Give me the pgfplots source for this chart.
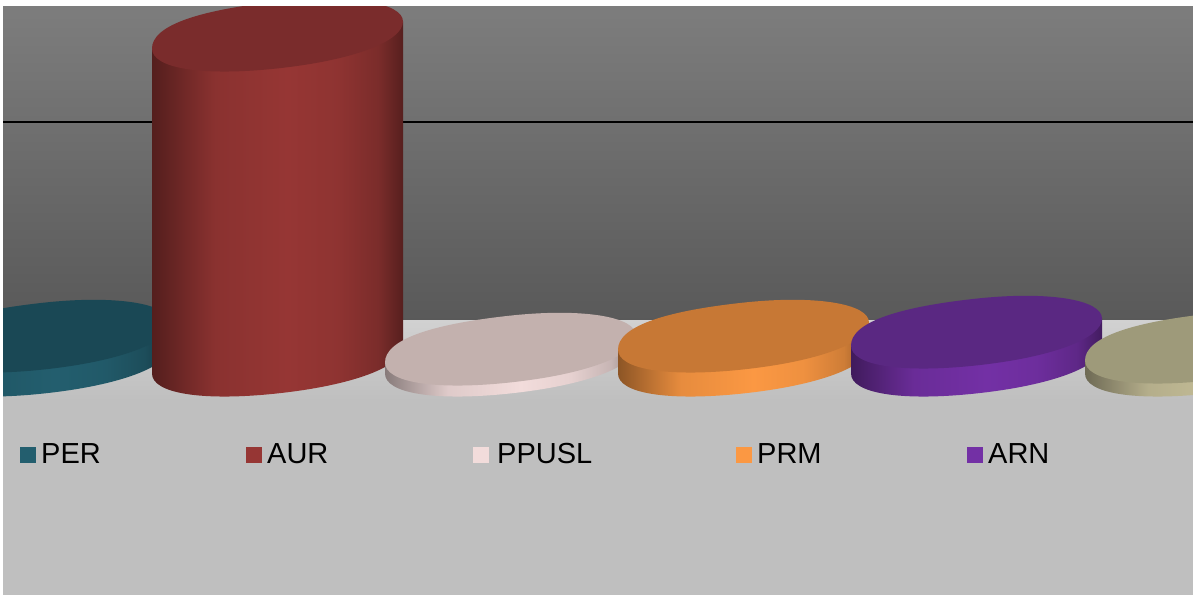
\documentclass[border=0pt]{standalone}
\usepackage{fontspec}
\setmainfont{Liberation Sans}
\usepackage{pgfplots}
\pgfplotsset{compat=1.18}

\definecolor{perSide}{HTML}{235E6E}
\definecolor{perTop}{HTML}{1A4855}
\definecolor{aurSide}{HTML}{963634}
\definecolor{aurTop}{HTML}{7A2C2C}
\definecolor{ppuSide}{HTML}{F2DCDB}
\definecolor{ppuTop}{HTML}{C3B1AE}
\definecolor{prmSide}{HTML}{FB9843}
\definecolor{prmTop}{HTML}{C77835}
\definecolor{arnSide}{HTML}{7330A5}
\definecolor{arnTop}{HTML}{5A2882}
\definecolor{othSide}{HTML}{C4BD97}
\definecolor{othTop}{HTML}{9E9A7A}

% disc outline, a little fuller on the upper left than a true ellipse
\newcommand\discpath{%
  \pgfpathmoveto{\pgfqpoint{125.5pt}{13.5pt}}%
  \pgfpathcurveto{\pgfqpoint{125.5pt}{32.5pt}}{\pgfqpoint{71.5pt}{41.1pt}}{\pgfqpoint{0pt}{33.4pt}}%
  \pgfpathcurveto{\pgfqpoint{-82.8pt}{24.5pt}}{\pgfqpoint{-125.5pt}{8.5pt}}{\pgfqpoint{-125.5pt}{-13.5pt}}%
  \pgfpathcurveto{\pgfqpoint{-125.5pt}{-33.5pt}}{\pgfqpoint{-75.3pt}{-41.5pt}}{\pgfqpoint{0pt}{-33.4pt}}%
  \pgfpathcurveto{\pgfqpoint{75.3pt}{-25.3pt}}{\pgfqpoint{125.5pt}{-6.5pt}}{\pgfqpoint{125.5pt}{13.5pt}}%
  \pgfpathclose}

% side of a cylinder: dark edges, lit a bit right of the middle
\newcommand\sideshade[1]{%
  \pgfdeclarehorizontalshading{sh#1}{100bp}{%
    color(0bp)=(#1Side!56!black); color(25bp)=(#1Side!56!black);
    color(31.5bp)=(#1Side!75!black); color(37.5bp)=(#1Side!92!black);
    color(52bp)=(#1Side); color(62bp)=(#1Side!95!black);
    color(70bp)=(#1Side!82!black); color(75bp)=(#1Side!58!black);
    color(100bp)=(#1Side!58!black)}%
  \pgfdeclareplotmark{base#1}{%
    \discpath
    \pgfshadepath{sh#1}{0}\pgfusepath{discard}}%
}
\sideshade{per}\sideshade{aur}\sideshade{ppu}\sideshade{prm}\sideshade{arn}\sideshade{oth}

\pgfdeclareplotmark{cyltop}{%
  \discpath
  \pgfusepathqfill}

\begin{document}
\begin{tikzpicture}
\useasboundingbox (0,0) rectangle (1193pt,595pt);
\begin{axis}[
    at={(-100pt,0)}, anchor=south west,
    scale only axis,
    width=1500pt, height=595pt,
    xmin=-100, xmax=1400, ymin=0, ymax=595,
    y dir=reverse,
    hide axis,
    clip mode=individual,
    clip marker paths=true,
    top/.style={only marks, mark=cyltop, mark options={draw=none, fill=#1}},
    key/.style={only marks, mark=square*, mark size=7.5pt, mark options={draw=#1, fill=#1}},
]
% wall, floor, gridline
\addplot[draw=none, top color=black!51!white, bottom color=black!65!white] coordinates {(3,6) (1193,6) (1193,320) (3,320)} --cycle;
\addplot[draw=none, top color=black!18!white, bottom color=black!25!white] coordinates {(3,320) (1193,320) (1193,400) (3,400)} --cycle;
\addplot[draw=none, fill=black!25!white] coordinates {(3,400) (1193,400) (1193,595) (3,595)} --cycle;
\addplot[black, line width=2.2pt] coordinates {(3,122) (1193,122)};

% PER
\addplot[only marks, mark=baseper] coordinates {(44.5,360)};
\addplot[draw=none, shade, shading=shper] coordinates {(-81,349.5) (-81,373.5) (170,346.5) (170,322.5)} --cycle;
\addplot[top=perTop] coordinates {(44.5,336)};
% AUR
\addplot[only marks, mark=baseaur] coordinates {(277.5,360)};
\addplot[draw=none, shade, shading=shaur] coordinates {(152,48.5) (152,373.5) (403,346.5) (403,21.5)} --cycle;
\addplot[top=aurTop] coordinates {(277.5,35)};
% PPUSL
\addplot[only marks, mark=baseppu] coordinates {(510.5,360)};
\addplot[draw=none, shade, shading=shppu] coordinates {(385,362.5) (385,373.5) (636,346.5) (636,335.5)} --cycle;
\addplot[top=ppuTop] coordinates {(510.5,349)};
% PRM
\addplot[only marks, mark=baseprm] coordinates {(743.5,360)};
\addplot[draw=none, shade, shading=shprm] coordinates {(618,349.5) (618,373.5) (869,346.5) (869,322.5)} --cycle;
\addplot[top=prmTop] coordinates {(743.5,336)};
% ARN
\addplot[only marks, mark=basearn] coordinates {(976.5,360)};
\addplot[draw=none, shade, shading=sharn] coordinates {(851,345.5) (851,373.5) (1102,346.5) (1102,318.5)} --cycle;
\addplot[top=arnTop] coordinates {(976.5,332)};
% last one, cut off by the frame
\addplot[only marks, mark=baseoth] coordinates {(1210.5,360)};
\addplot[draw=none, shade, shading=shoth] coordinates {(1085,360.5) (1085,373.5) (1336,346.5) (1336,333.5)} --cycle;
\addplot[top=othTop] coordinates {(1210.5,347)};

% white margin
\addplot[draw=none, fill=white] coordinates {(-100,0) (1400,0) (1400,6) (-100,6)} --cycle;
\addplot[draw=none, fill=white] coordinates {(-100,0) (3,0) (3,595) (-100,595)} --cycle;

% legend
\addplot[key=perSide] coordinates {(27.5,454.5)};
\addplot[key=aurSide] coordinates {(253.5,454.5)};
\addplot[key=ppuSide] coordinates {(480.5,454.5)};
\addplot[key=prmSide] coordinates {(743.5,454.5)};
\addplot[key=arnSide] coordinates {(974.5,454.5)};
\foreach \lab/\xx in {PER/41, AUR/267, PPUSL/497, PRM/757, ARN/988}{
  \edef\temp{\noexpand\node[anchor=base west, inner sep=0pt, font=\noexpand\fontsize{29}{31}\noexpand\selectfont] at (axis cs:\xx,463.5) {\lab};}
  \temp
}
\end{axis}
\end{tikzpicture}
\end{document}
